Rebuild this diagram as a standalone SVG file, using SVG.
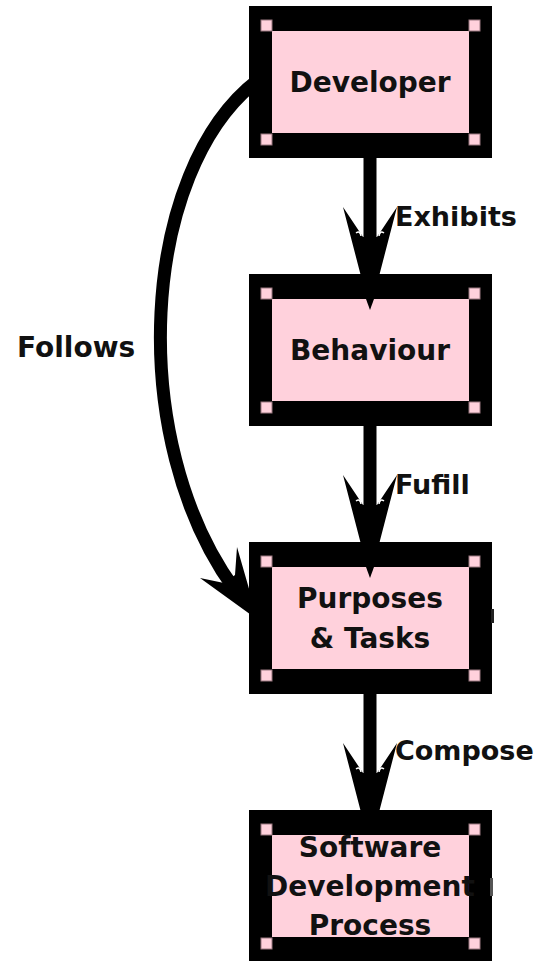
<svg xmlns="http://www.w3.org/2000/svg" width="542" height="961" viewBox="0 0 542 961">
<defs>
<style>
.outer{fill:#000}
.inner{fill:#ffd1dc}
.handle{fill:#ffd1dc;stroke:#9a7880;stroke-width:1}
.ntext{font-family:"DejaVu Sans",sans-serif;font-weight:bold;font-size:28px;fill:#111;text-anchor:middle}
.ltext{font-family:"DejaVu Sans",sans-serif;font-weight:bold;font-size:27px;fill:#111}
.shaft{stroke:#000;stroke-width:13;fill:none}
.head{fill:#000}
.spark{stroke:#fff;stroke-width:1.5;fill:none}
</style>
<g id="vhead">
<polygon class="head" points="0,0 -27,-104 -7,-74 7,-74 27,-104"/>
<path class="spark" d="M-14,-78 q4,-3 5,3 M14,-78 q-4,-3 -5,3"/>
</g>
</defs>
<rect width="542" height="961" fill="#fff"/>

<g id="connectors">
<path class="shaft" d="M258,80 C140,170 125,440 235,590"/>
<polygon class="head" points="258,620 237,547 235,575 224,583 200,578"/>
<line class="shaft" x1="370" y1="150" x2="370" y2="280"/>
<use href="#vhead" x="370" y="311"/>
<line class="shaft" x1="370" y1="418" x2="370" y2="548"/>
<use href="#vhead" x="370" y="579"/>
<line class="shaft" x1="370" y1="686" x2="370" y2="816"/>
<use href="#vhead" x="370" y="847"/>
</g>

<g id="developer">
<rect class="outer" x="249" y="6" width="243" height="152"/>
<rect class="inner" x="272" y="31" width="197" height="102"/>
<rect class="handle" x="261" y="20" width="11" height="11"/>
<rect class="handle" x="469" y="20" width="11" height="11"/>
<rect class="handle" x="261" y="134" width="11" height="11"/>
<rect class="handle" x="469" y="134" width="11" height="11"/>
<text class="ntext" x="370" y="92">Developer</text>
</g>

<g id="behaviour">
<rect class="outer" x="249" y="274" width="243" height="152"/>
<rect class="inner" x="272" y="299" width="197" height="102"/>
<rect class="handle" x="261" y="288" width="11" height="11"/>
<rect class="handle" x="469" y="288" width="11" height="11"/>
<rect class="handle" x="261" y="402" width="11" height="11"/>
<rect class="handle" x="469" y="402" width="11" height="11"/>
<polygon class="head" points="366,299 374,299 370,310"/>
<text class="ntext" x="370" y="360">Behaviour</text>
</g>

<g id="purposes">
<rect class="outer" x="249" y="542" width="243" height="152"/>
<rect class="inner" x="272" y="567" width="197" height="102"/>
<rect class="handle" x="261" y="556" width="11" height="11"/>
<rect class="handle" x="469" y="556" width="11" height="11"/>
<rect class="handle" x="261" y="670" width="11" height="11"/>
<rect class="handle" x="469" y="670" width="11" height="11"/>
<polygon class="head" points="366,567 374,567 370,578"/>
<rect x="491" y="609" width="3" height="14" fill="#222"/>
<text class="ntext" x="370" y="608">Purposes</text>
<text class="ntext" x="370" y="648">&amp; Tasks</text>
</g>

<g id="software">
<rect class="outer" x="249" y="810" width="243" height="152"/>
<rect class="inner" x="272" y="835" width="197" height="102"/>
<rect class="handle" x="261" y="824" width="11" height="11"/>
<rect class="handle" x="469" y="824" width="11" height="11"/>
<rect class="handle" x="261" y="938" width="11" height="11"/>
<rect class="handle" x="469" y="938" width="11" height="11"/>
<rect x="490" y="878" width="3" height="18" fill="#555"/>
<text class="ntext" x="370" y="857">Software</text>
<text class="ntext" x="370" y="896">Development</text>
<text class="ntext" x="370" y="935">Process</text>
</g>

<g id="labels">
<text class="ltext" x="395" y="226">Exhibits</text>
<text class="ltext" x="395" y="494">Fufill</text>
<text class="ltext" x="395" y="760">Compose</text>
<text class="ltext" x="17" y="357" style="font-size:28px">Follows</text>
</g>
</svg>
